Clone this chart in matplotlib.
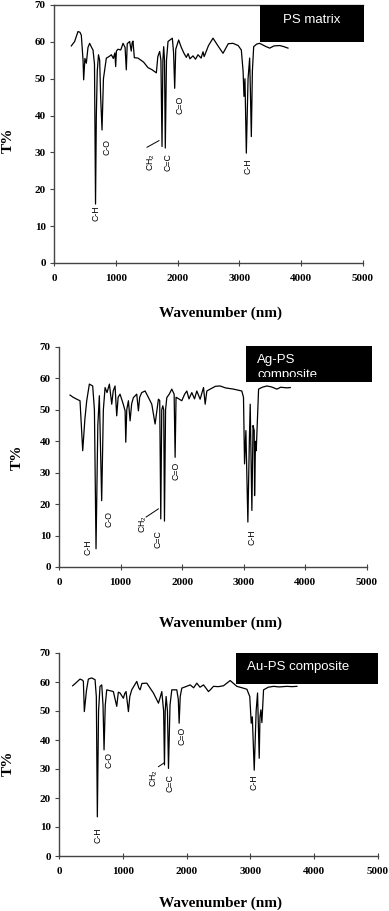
import matplotlib.pyplot as plt
from matplotlib.patches import Rectangle
from matplotlib.transforms import Bbox, TransformedBbox

plt.rcParams['mathtext.fontset'] = 'custom'
plt.rcParams['mathtext.rm'] = 'Liberation Sans'

# PS matrix spectrum
ps_x = [280, 334, 388, 420, 442, 470, 480, 500, 523, 550, 577, 605, 631, 655, 672, 685, 700, 720,
        739, 755, 777, 800, 847, 890, 928, 960, 985, 998, 1010, 1035, 1080, 1117, 1150, 1170, 1185,
        1224, 1250, 1265, 1278, 1300, 1359, 1450, 1521, 1580, 1656, 1680, 1710, 1730, 1748, 1762,
        1775, 1788, 1801, 1820, 1845, 1915, 1935, 1953, 1970, 2017, 2060, 2100, 2141, 2170, 2200,
        2249, 2290, 2330, 2380, 2411, 2430, 2500, 2573, 2650, 2735, 2820, 2896, 2980, 3031, 3060,
        3074, 3090, 3112, 3140, 3166, 3180, 3193, 3210, 3231, 3280, 3328, 3420, 3490, 3560, 3652,
        3720, 3786]
ps_y = [58.9, 60.1, 62.8, 62.6, 61.8, 55, 49.7, 55.5, 54.2, 58.5, 59.6, 58.6, 57.8, 54, 16, 40, 52,
        56.5, 55, 45, 36.1, 50, 55.6, 56, 56.5, 55.5, 57, 53.3, 57.5, 58.0, 57.8, 59.6, 58.5, 52.4,
        59.5, 60.1, 57.5, 59.8, 60.2, 55.7, 55.6, 54.5, 53, 52.5, 51.6, 56, 57.4, 55, 31.6, 55, 58.7,
        55, 31.2, 55, 60.1, 61.0, 57, 47.4, 58, 60.5, 58.5, 57, 55.8, 56.8, 55.4, 56.2, 55.3, 56.5,
        55.6, 57.3, 56, 59, 61.0, 59, 56.9, 59.5, 59.6, 59, 57.8, 52, 45.2, 50, 29.8, 50, 55.6, 45,
        34.3, 52, 58.7, 59.4, 59.6, 58.8, 58.3, 58.9, 59.0, 58.7, 58.3]

# Ag-PS composite spectrum
ag_x = [179, 230, 287, 341, 385, 420, 450, 493, 547, 575, 601, 630, 655, 693, 720, 748, 780, 818,
        856, 880, 910, 937, 960, 991, 1040, 1073, 1084, 1100, 1127, 1154, 1180, 1208, 1262, 1289,
        1310, 1343, 1398, 1450, 1506, 1560, 1614, 1635, 1652, 1668, 1685, 1700, 1712, 1730, 1750,
        1790, 1831, 1869, 1885, 1900, 1912, 1993, 2040, 2075, 2110, 2156, 2200, 2237, 2291, 2346,
        2373, 2400, 2454, 2540, 2616, 2700, 2833, 2968, 2995, 3012, 3034, 3066, 3090, 3104, 3131,
        3150, 3169, 3175, 3190, 3202, 3240, 3300, 3375, 3450, 3537, 3600, 3646, 3700, 3754]
ag_y = [54.7, 54.0, 53.4, 52.9, 37.0, 47, 52.9, 58.2, 57.6, 50, 5.8, 45, 54.5, 21.1, 50, 57.1, 55.5,
        58.2, 51.8, 56, 57.6, 48.1, 54, 55.0, 52, 49.7, 39.7, 50, 52.9, 46.5, 52, 53.9, 55.0, 49.7,
        54, 55.5, 56.0, 54, 51.8, 45.5, 53.4, 53, 15.3, 50, 51.3, 50, 14.6, 50, 53.9, 55, 56.6, 55.0,
        34.9, 54, 53.9, 52.9, 55, 56.0, 53.5, 55.5, 53.5, 56.0, 53.4, 57.1, 51.8, 56, 56.6, 57.5,
        57.6, 57.0, 56.6, 56.0, 54, 32.8, 43.4, 14.3, 40, 51.8, 18.0, 45, 43.4, 22.7, 40, 37.0, 56.6,
        57.2, 57.6, 57.3, 56.6, 57.2, 57.1, 57.0, 57.1]

# Au-PS composite spectrum
au_x = [214, 251, 329, 370, 382, 397, 430, 460, 513, 565, 585, 601, 620, 643, 670, 690, 706, 725,
        748, 800, 852, 905, 930, 957, 1009, 1030, 1051, 1088, 1110, 1140, 1219, 1250, 1271, 1300,
        1376, 1480, 1559, 1590, 1611, 1640, 1653, 1665, 1679, 1700, 1716, 1740, 1768, 1846, 1870,
        1883, 1900, 1925, 2000, 2056, 2110, 2160, 2210, 2265, 2300, 2343, 2380, 2421, 2500, 2578,
        2683, 2788, 2870, 2945, 2990, 3013, 3030, 3060, 3090, 3112, 3138, 3150, 3164, 3180, 3206,
        3280, 3363, 3450, 3572, 3650, 3729]
au_y = [58.7, 59.4, 61.0, 60.6, 60.2, 49.8, 57, 61.0, 61.4, 60.8, 55, 13.5, 50, 58.5, 59.0, 52,
        36.6, 52, 57.3, 57.0, 56.7, 51.6, 56.5, 56.2, 54.4, 56, 56.7, 49.8, 55, 57.3, 60.2, 58, 57.3,
        59.5, 59.6, 56.2, 52.7, 55, 56.7, 50, 31.4, 50, 55.0, 50, 30.2, 52, 57.3, 57.3, 54, 45.8, 55,
        57.9, 58.5, 59.0, 58.0, 59.6, 58.2, 59.0, 58, 56.7, 57.5, 58.5, 58.4, 58.7, 60.5, 58.5, 58.0,
        57.5, 55, 45.8, 48, 29.6, 50, 56.2, 33.7, 48, 50.4, 46, 57.3, 58.2, 58.5, 58.3, 58.5, 58.4,
        58.5]

# peak labels: text, x, y
ps_labels = [('C-H', 674, 13.5), ('C-O', 858, 31.6), ('CH$_2$', 1575, 27.5), ('C=C', 1845, 27.5),
             ('C=O', 2033, 42.9), ('C-H', 3139, 26.2)]
ag_labels = [('C-H', 466, 6.3), ('C-O', 813, 15.3), ('CH$_2$', 1370, 13.7), ('C=C', 1614, 9.0),
             ('C=O', 1896, 30.7), ('C-H', 3131, 9.5)]
au_labels = [('C-H', 617, 7.2), ('C-O', 790, 33.1), ('CH$_2$', 1491, 26.8), ('C=C', 1742, 25.0),
             ('C=O', 1925, 41.4), ('C-H', 3060, 25.6)]

# small leader lines from CH2 label to peak
ps_lead = ([1505, 1699], [31.4, 33.2])
ag_lead = ([1414, 1614], [15.9, 18.5])
au_lead = ([1559, 1653], [30.8, 32.2])

W, H = 389, 911
fig = plt.figure(figsize=(W / 100, H / 100), dpi=100)

def px_rect(l, t, r, b):
    return [l / W, 1 - b / H, (r - l) / W, (b - t) / H]

panels = [
    (px_rect(54, 5, 363, 263), ps_x, ps_y, ps_labels, ps_lead, True,
     (0.667, 0.857, 0.336, 0.143)),
    (px_rect(59, 347, 367, 567), ag_x, ag_y, ag_labels, ag_lead, False,
     (0.607, 0.841, 0.409, 0.164)),
    (px_rect(59, 653, 378, 856), au_x, au_y, au_labels, au_lead, False,
     (0.555, 0.847, 0.445, 0.153)),
]

axes = []
for rect, xs, ys, labels, lead, top, box in panels:
    ax = fig.add_axes(rect)
    ax.plot(xs, ys, color='black', lw=0.9)
    ax.plot(lead[0], lead[1], color='black', lw=0.7)
    for txt, x, y in labels:
        ax.text(x, y, txt, rotation=90, ha='center', va='center', fontsize=6.3,
                family='Liberation Sans')
    ax.set_xlim(0, 5000)
    ax.set_ylim(0, 70)
    ax.set_xticks(range(0, 5001, 1000))
    ax.set_yticks(range(0, 71, 10))
    for lab in ax.get_xticklabels() + ax.get_yticklabels():
        lab.set_family('Liberation Serif')
        lab.set_fontweight('bold')
        lab.set_fontsize(8)
    ax.tick_params(axis='x', direction='inout', length=4, width=0.8, color='#444444', pad=6)
    ax.tick_params(axis='y', direction='out', length=3, width=0.8, color='#444444', pad=3)
    ax.spines['right'].set_visible(False)
    ax.spines['top'].set_visible(top)
    for s in ax.spines.values():
        s.set_color('#444444')
        s.set_linewidth(1.0)
    r = Rectangle((box[0], box[1]), box[2], box[3], transform=ax.transAxes,
                  facecolor='black', edgecolor='none', clip_on=False, zorder=5)
    ax.add_patch(r)
    axes.append((ax, r))

ax1, r1 = axes[0]
ax1.text(0.835, 0.942, 'PS matrix', transform=ax1.transAxes, color='white', fontsize=9.5,
         family='Liberation Sans', ha='center', va='center', zorder=6)
ax2, r2 = axes[1]
ax2.text(0.643, 0.941, 'Ag-PS', transform=ax2.transAxes, color='white', fontsize=9.5,
         family='Liberation Sans', ha='left', va='center', zorder=6)
t = ax2.text(0.643, 0.872, 'composite', transform=ax2.transAxes, color='white', fontsize=9.5,
             family='Liberation Sans', ha='left', va='center', zorder=6)
# the second line is cut off by the box edge in the original
t.set_clip_box(TransformedBbox(Bbox([[0.6, 0.862], [1.02, 1.01]]), ax2.transAxes))
t.set_clip_on(True)
ax3, r3 = axes[2]
ax3.text(0.589, 0.931, 'Au-PS composite', transform=ax3.transAxes, color='white', fontsize=9.5,
         family='Liberation Sans', ha='left', va='center', zorder=6)

# axis titles in figure pixels
for x, y in [(8, 140), (17, 457), (8, 763)]:
    fig.text(x / W, 1 - y / H, 'T%', rotation=90, ha='center', va='center', fontsize=11,
             family='Liberation Serif', fontweight='bold')
for y in [313, 623, 903]:
    fig.text(220 / W, 1 - y / H, 'Wavenumber (nm)', ha='center', va='center', fontsize=11,
             family='Liberation Serif', fontweight='bold')

fig.savefig('out.png', dpi=100)
